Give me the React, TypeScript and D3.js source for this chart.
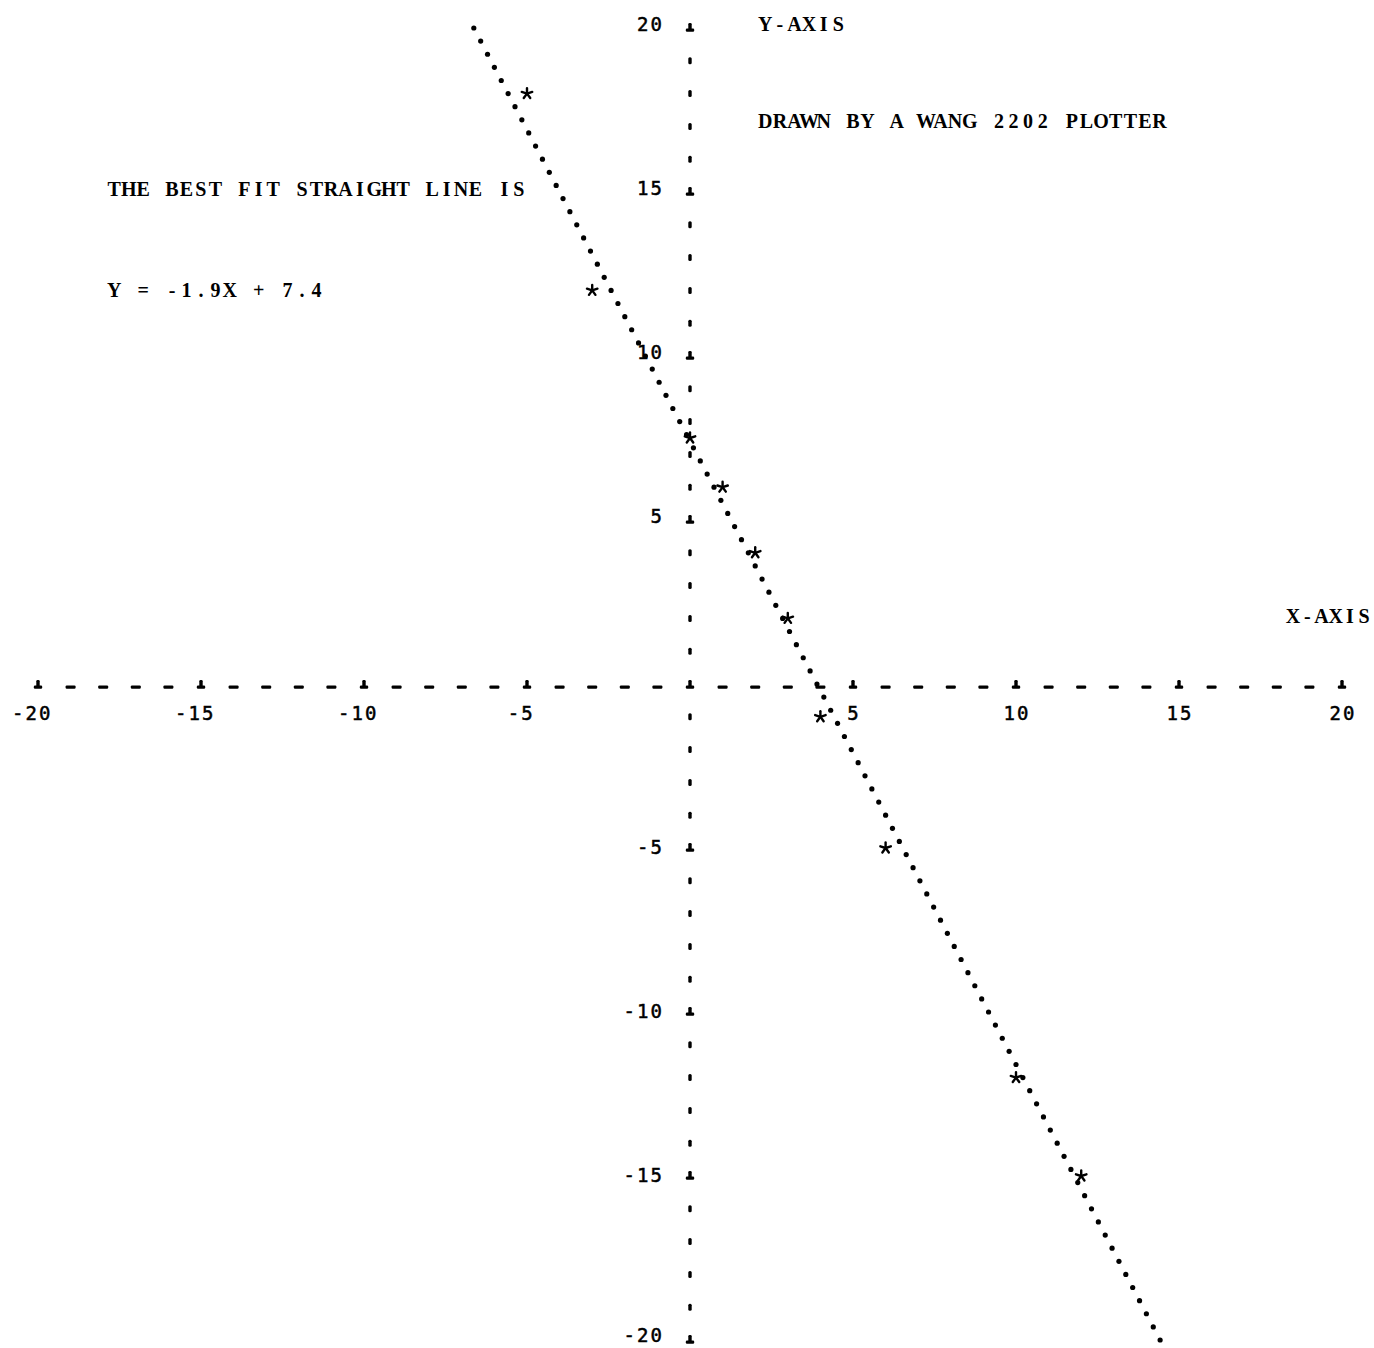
import React from "react";
import * as d3 from "d3";

const W = 1374;
const H = 1348;

// Observed data points (asterisks)
const pointX = [-5, -3, 0, 1, 2, 3, 4, 6, 10, 12];
const pointY = [18, 12, 7.5, 6, 4, 2, -1, -5, -12, -15];

// Best-fit line Y = -1.9X + 7.4
const fitSlope = -1.9;
const fitIntercept = 7.4;
const fitStepY = 0.4; // plotter draws one dot every 0.4 Y units

const majorTicks = [-20, -15, -10, -5, 0, 5, 10, 15, 20];
const xTickLabels = ["-20", "-15", "-10", "-5", "", "5", "10", "15", "20"];
const yTickLabels = ["-20", "-15", "-10", "-5", "", "5", "10", "15", "20"];

const titleLines = ["THE BEST FIT STRAIGHT LINE IS", "Y = -1.9X + 7.4"];
const noteText = "DRAWN BY A WANG 2202 PLOTTER";
const xAxisTitle = "X-AXIS";
const yAxisTitle = "Y-AXIS";

const TYPE_FONT = "'Liberation Serif', 'DejaVu Serif', serif";
const NUM_FONT = "'DejaVu Sans Mono', monospace";

function PlusMark({ cx, cy }: { cx: number; cy: number }) {
  return (
    <g fill="#000">
      <rect x={cx - 1.7} y={cy - 6} width={3.4} height={7} rx={1.3} />
      <rect x={cx - 4.2} y={cy - 0.5} width={8.4} height={3.2} rx={1.2} />
    </g>
  );
}

function Asterisk({ cx, cy }: { cx: number; cy: number }) {
  const r = 5.5;
  const spokes = d3.range(5).map((i) => (-90 + i * 72) * (Math.PI / 180));
  return (
    <g stroke="#000" strokeWidth={2.4} strokeLinecap="round">
      {spokes.map((a, i) => (
        <line key={i} x1={cx} y1={cy} x2={cx + r * Math.cos(a)} y2={cy + r * Math.sin(a)} />
      ))}
    </g>
  );
}

// Typewriter-style text: every character centred on a fixed pitch
function TypeText({ x, y, text, pitch = 14.6 }: { x: number; y: number; text: string; pitch?: number }) {
  const xs = text.split("").map((_, i) => (x + pitch / 2 - 1 + i * pitch).toFixed(1)).join(" ");
  return (
    <text x={xs} y={y} textAnchor="middle">
      {text}
    </text>
  );
}

export default function App() {
  const x = d3.scaleLinear().domain([-20, 20]).range([38, 1342]);
  const y = d3.scaleLinear().domain([-20, 20]).range([1340, 28]);
  const axisY = y(0) + 3;
  const axisX = x(0);

  const minor = d3.range(-20, 21).filter((v) => v % 5 !== 0);

  const fitDots = d3.range(0, Math.round(40 / fitStepY) + 1).map((i) => {
    const yy = 20 - i * fitStepY;
    const xx = (yy - fitIntercept) / fitSlope;
    return [xx, yy];
  });

  const adv = 13.5;

  const numText = (lab: string, leftX: number, baseY: number, key: string) => {
    const xs = lab
      .split("")
      .map((_, i) => (leftX + adv / 2 + i * adv).toFixed(1))
      .join(" ");
    return (
      <text
        key={key}
        x={xs}
        y={baseY}
        textAnchor="middle"
        fontFamily={NUM_FONT}
        fontSize={19}
        fill="#000"
        stroke="#000"
        strokeWidth={0.5}
      >
        {lab}
      </text>
    );
  };

  return (
    <svg
      width={W}
      height={H}
      style={{ position: "absolute", left: 0, top: 0, display: "block", background: "#fff" }}
    >
      <rect width={W} height={H} fill="#fff" />

      {/* X axis: dashes at each unit, marks at multiples of 5 */}
      {minor.map((v) => (
        <rect key={"xd" + v} x={x(v) - 5} y={axisY - 1.6} width={10} height={3.4} rx={1.2} fill="#000" />
      ))}
      {majorTicks.map((v) => (
        <PlusMark key={"xm" + v} cx={x(v)} cy={axisY - 1} />
      ))}

      {/* Y axis: small vertical strokes at each unit, marks at multiples of 5 */}
      {minor.map((v) => (
        <rect key={"yd" + v} x={axisX - 1.7} y={y(v) - 3.5} width={3.4} height={7} rx={1.5} fill="#000" />
      ))}
      {majorTicks
        .filter((v) => v !== 0)
        .map((v) => (
          <PlusMark key={"ym" + v} cx={axisX} cy={y(v) + 1} />
        ))}

      {/* X tick labels: digits centred on tick, minus sign hanging left */}
      {majorTicks.map((v, i) => {
        const lab = xTickLabels[i];
        if (!lab) return null;
        const neg = lab.startsWith("-");
        const nd = neg ? lab.length - 1 : lab.length;
        const left = x(v) - (nd * adv) / 2 - (neg ? adv : 0);
        return numText(lab, left, axisY + 33, "xl" + v);
      })}

      {/* Y tick labels: right aligned left of axis */}
      {majorTicks.map((v, i) => {
        const lab = yTickLabels[i];
        if (!lab) return null;
        const left = 663 - lab.length * adv;
        return numText(lab, left, Math.min(y(v) + (v > 0 ? 3 : 6), H - 6), "yl" + v);
      })}

      {/* Best-fit line drawn as dots */}
      {fitDots.map(([a, b], i) => (
        <circle key={"f" + i} cx={x(a)} cy={y(b)} r={2.6} fill="#000" />
      ))}

      {/* Data points */}
      {pointX.map((px, i) => (
        <Asterisk key={"p" + i} cx={x(px)} cy={y(pointY[i])} />
      ))}

      {/* Text */}
      <g fontFamily={TYPE_FONT} fontWeight="bold" fontSize={20} fill="#000">
        <TypeText x={759} y={31} text={yAxisTitle} />
        <TypeText x={759} y={128} text={noteText} />
        <TypeText x={108} y={196} text={titleLines[0]} pitch={14.45} />
        <TypeText x={108} y={297} text={titleLines[1]} pitch={14.45} />
        <TypeText x={1287} y={623} text={xAxisTitle} pitch={14.2} />
      </g>
    </svg>
  );
}
